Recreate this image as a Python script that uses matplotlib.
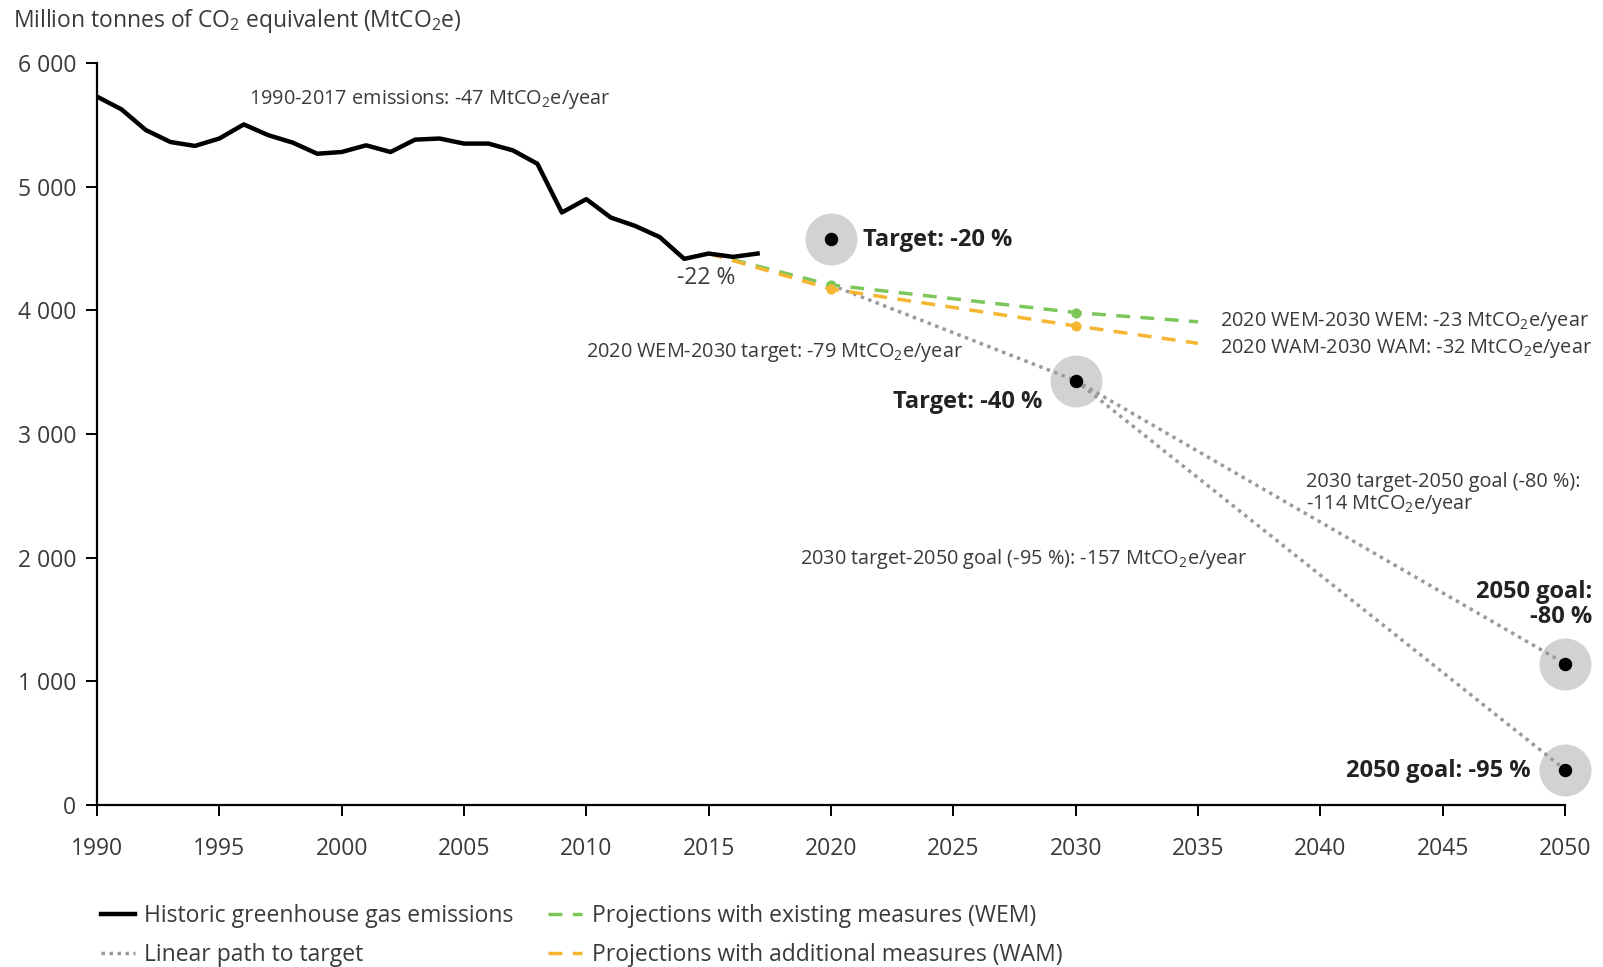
import matplotlib
matplotlib.use("Agg")
import matplotlib.pyplot as plt
from matplotlib.ticker import FuncFormatter
from matplotlib.lines import Line2D

plt.rcParams['font.family'] = ['Open Sans', 'DejaVu Sans']
plt.rcParams['mathtext.fontset'] = 'custom'
plt.rcParams['mathtext.rm'] = 'Open Sans'
plt.rcParams['mathtext.it'] = 'Open Sans'
plt.rcParams['mathtext.bf'] = 'Open Sans:bold'

# ---- data ----
hist_years = list(range(1990, 2018))
hist_emissions = [5728, 5625, 5457, 5361, 5329, 5389, 5503, 5416, 5356, 5266,
                  5280, 5334, 5280, 5380, 5389, 5348, 5348, 5293, 5185, 4791,
                  4899, 4750, 4682, 4592, 4416, 4459, 4432, 4459]

proj_years = [2015, 2020, 2030, 2035]
wem_values = [4459, 4205, 3982, 3907]
wam_values = [4459, 4172, 3874, 3733]
marker_years = [2020, 2030]
wem_markers = [4205, 3982]
wam_markers = [4172, 3874]

path_2030_years = [2020, 2030]
path_2030_values = [4205, 3432]
path_80_years = [2030, 2050]
path_80_values = [3432, 1144]
path_95_years = [2030, 2050]
path_95_values = [3432, 286]

target_years = [2020, 2030, 2050, 2050]
target_values = [4576, 3432, 1144, 286]

x_ticks = list(range(1990, 2051, 5))
y_ticks = [0, 1000, 2000, 3000, 4000, 5000, 6000]

GREEN = '#7cc65a'
ORANGE = '#f6b530'
GRAY = '#9a9a9a'
CIRCLE = '#d2d2d2'
TXT = '#3a3a3a'

fig = plt.figure(figsize=(16.03, 9.67), dpi=100)
ax = fig.add_axes([0.0605, 0.1675, 0.9158, 0.7674])

ax.plot(hist_years, hist_emissions, color='black', lw=3.2, zorder=5, solid_joinstyle='round')
ax.plot(proj_years, wem_values, color=GREEN, lw=2.5, ls=(0, (4, 3)), zorder=4)
ax.plot(proj_years, wam_values, color=ORANGE, lw=2.5, ls=(0, (4, 3)), zorder=4)
ax.scatter(marker_years, wem_markers, color=GREEN, s=40, zorder=6)
ax.scatter(marker_years, wam_markers, color=ORANGE, s=40, zorder=6)

for xs, ys in [(path_2030_years, path_2030_values), (path_80_years, path_80_values),
               (path_95_years, path_95_values)]:
    ax.plot(xs, ys, color=GRAY, lw=2.5, ls=(0, (1, 1.3)), zorder=3)

ax.scatter(target_years, target_values, s=1400, color=CIRCLE, zorder=2, clip_on=False, linewidths=0)
ax.scatter(target_years, target_values, s=75, color='black', zorder=7, clip_on=False)

ax.set_xlim(1990, 2050)
ax.set_ylim(0, 6000)
ax.set_xticks(x_ticks)
ax.set_yticks(y_ticks)
ax.yaxis.set_major_formatter(FuncFormatter(lambda v, p: f"{int(v):,}".replace(",", " ")))
for s in ['top', 'right']:
    ax.spines[s].set_visible(False)
for s in ['left', 'bottom']:
    ax.spines[s].set_linewidth(1.6)
ax.tick_params(axis='both', labelsize=16.5, length=8, width=1.4, colors='black', labelcolor=TXT)
ax.tick_params(axis='x', pad=15)
ax.tick_params(axis='y', pad=7)

fig.text(0.008, 0.978, r'Million tonnes of CO$_2$ equivalent (MtCO$_2$e)', fontsize=16.5,
         color=TXT, va='center', ha='left')

ann = dict(fontsize=14.3, color=TXT)
BOLD = dict(fontsize=17, fontweight='bold', color='#222222')
ax.text(1996.2, 5704, r'1990-2017 emissions: -47 MtCO$_2$e/year', va='center', ha='left', **ann)
ax.text(2014.9, 4263, '-22 %', va='center', ha='center', fontsize=16.5, color=TXT)
ax.text(2021.3, 4570, 'Target: -20 %', va='center', ha='left', **BOLD)
ax.text(2025.4, 3659, r'2020 WEM-2030 target: -79 MtCO$_2$e/year', va='center', ha='right', **ann)
ax.text(2028.65, 3262, 'Target: -40 %', va='center', ha='right', **BOLD)
ax.text(2035.9, 3907, r'2020 WEM-2030 WEM: -23 MtCO$_2$e/year', va='center', ha='left', **ann)
ax.text(2035.9, 3692, r'2020 WAM-2030 WAM: -32 MtCO$_2$e/year', va='center', ha='left', **ann)
ax.text(2039.4, 2517, '2030 target-2050 goal (-80 %):\n' + r'-114 MtCO$_2$e/year', va='center', ha='left',
        linespacing=1.05, **ann)
ax.text(2018.75, 1987, r'2030 target-2050 goal (-95 %): -157 MtCO$_2$e/year', va='center', ha='left', **ann)
ax.text(2051.1, 1622, '2050 goal:\n-80 %', va='center', ha='right', linespacing=1.1, **BOLD)
ax.text(2048.6, 273, '2050 goal: -95 %', va='center', ha='right', **BOLD)

handles = [
    Line2D([], [], color='black', lw=3.2),
    Line2D([], [], color=GRAY, lw=2.5, ls=(0, (1, 1.3))),
    Line2D([], [], color=GREEN, lw=2.5, ls=(0, (4, 3))),
    Line2D([], [], color=ORANGE, lw=2.5, ls=(0, (4, 3))),
]
labels = ['Historic greenhouse gas emissions', 'Linear path to target',
          'Projections with existing measures (WEM)', 'Projections with additional measures (WAM)']
fig.legend(handles, labels, loc='upper left', bbox_to_anchor=(0.050, 0.086), ncol=2, frameon=False,
           fontsize=16.5, handlelength=1.5, columnspacing=1.5, labelspacing=0.62, handletextpad=0.4,
           labelcolor=TXT)

fig.savefig('out.png', dpi=100)
